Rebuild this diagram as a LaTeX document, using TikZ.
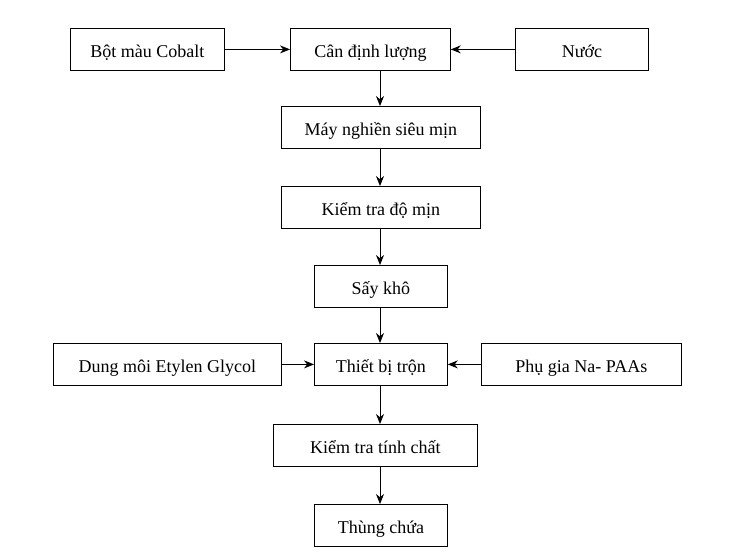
\documentclass[tikz,border=0pt]{standalone}
\usepackage{fontspec}
\setmainfont{Liberation Serif}
\usetikzlibrary{arrows.meta}
\begin{document}
\begin{tikzpicture}[x=1pt,y=-1pt,
  box/.style={draw,line width=0.8pt,minimum height=42pt,inner sep=0pt,text height=17pt,text depth=0pt,font=\fontsize{18}{20}\selectfont},
  arr/.style={-{Stealth[length=10pt,width=8pt]},line width=0.9pt}]
\useasboundingbox (0,0) rectangle (753,555);
\newcommand\bx[6]{\node[box,minimum width=#4-#2 pt,anchor=north west] (#1) at (#2,#3) {#6};}
\bx{bot}{70}{28}{224}{70}{Bột màu Cobalt}
\bx{can}{290}{28}{450}{70}{Cân định lượng}
\bx{nuoc}{515}{28}{648}{70}{Nước}
\bx{may}{281}{106}{480}{148}{Máy nghiền siêu mịn}
\bx{kt}{281}{186}{480}{228}{Kiểm tra độ mịn}
\bx{say}{314}{265}{447}{307}{Sấy khô}
\bx{dung}{53}{343}{281}{385}{Dung môi Etylen Glycol}
\bx{tron}{314}{343}{447}{385}{Thiết bị trộn}
\bx{phu}{481}{343}{681}{385}{Phụ gia Na- PAAs}
\bx{ktc}{273}{424}{477}{467}{Kiểm tra tính chất}
\bx{thung}{314}{504}{447}{547}{Thùng chứa}
\coordinate (cx) at (380,0);
\draw[arr] (bot) -- (can);
\draw[arr] (nuoc) -- (can);
\draw[arr] (dung) -- (tron);
\draw[arr] (phu) -- (tron);
\foreach \a/\b in {can/may,may/kt,kt/say,say/tron,tron/ktc,ktc/thung}
  \draw[arr] (cx |- \a.south) -- (cx |- \b.north);
\end{tikzpicture}
\end{document}
